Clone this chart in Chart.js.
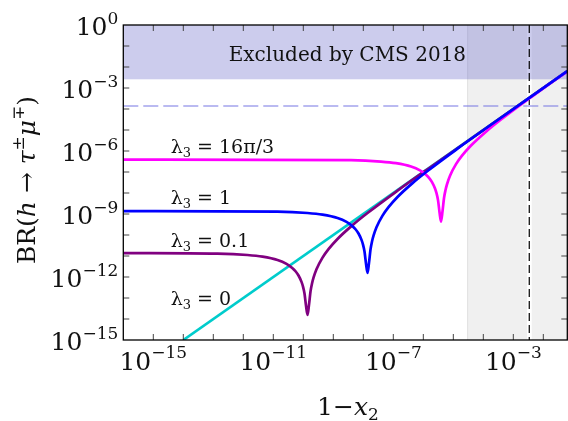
<!DOCTYPE html>
<html>
<head>
<meta charset="utf-8">
<script src="https://cdn.jsdelivr.net/npm/chart.js@4.4.0/dist/chart.umd.min.js"></script>
<style>
  body { margin: 0; background: #fff; }
  #wrap { width: 568px; height: 421px; }
</style>
</head>
<body>
<div id="wrap"><canvas id="brChart" width="568" height="421"></canvas></div>
<script>
// values: 1 - x2 on x, BR(h -> tau mu) on y
const xCyan = [1e-14, 6.3e-2];
const yCyan = [1e-15, 6.3e-3];

const xPurple = [1e-16, 1.38e-13, 1.38e-12, 4.37e-12, 1.38e-11, 2.75e-11, 4.37e-11, 5.50e-11, 6.92e-11,
  8.71e-11, 9.77e-11, 1.096e-10, 1.23e-10, 1.38e-10, 1.55e-10, 1.74e-10, 1.95e-10, 2.19e-10, 2.75e-10,
  4.37e-10, 6.92e-10, 1.38e-9, 4.37e-9, 1.38e-8, 1.38e-7, 1.38e-6, 6.3e-2];
const yPurple = [1.38e-11, 1.294e-11, 1.117e-11, 9.33e-12, 6.46e-12, 4.23e-12, 2.64e-12, 1.88e-12, 1.18e-12,
  5.85e-13, 3.48e-13, 1.63e-13, 4.32e-14, 1.55e-14, 4.85e-14, 2.06e-13, 4.91e-13, 9.25e-13, 2.35e-12,
  8.36e-12, 2.12e-11, 6.46e-11, 2.95e-10, 1.117e-9, 1.294e-8, 1.352e-7, 6.3e-3];

const xBlue = [1e-16, 1.38e-11, 1.38e-10, 4.37e-10, 1.38e-9, 2.75e-9, 4.37e-9, 5.50e-9, 6.92e-9,
  8.71e-9, 9.77e-9, 1.096e-8, 1.23e-8, 1.38e-8, 1.55e-8, 1.74e-8, 1.95e-8, 2.19e-8, 2.75e-8,
  4.37e-8, 6.92e-8, 1.38e-7, 4.37e-7, 1.38e-6, 1.38e-5, 1.38e-4, 6.3e-2];
const yBlue = [1.38e-9, 1.294e-9, 1.117e-9, 9.33e-10, 6.46e-10, 4.23e-10, 2.64e-10, 1.88e-10, 1.18e-10,
  5.85e-11, 3.48e-11, 1.63e-11, 4.32e-12, 1.55e-12, 4.85e-12, 2.06e-11, 4.91e-11, 9.25e-11, 2.35e-10,
  8.36e-10, 2.12e-9, 6.46e-9, 2.95e-8, 1.117e-7, 1.294e-6, 1.352e-5, 6.3e-3];

const xMagenta = [1e-16, 3.89e-9, 3.89e-8, 1.23e-7, 3.89e-7, 7.76e-7, 1.23e-6, 1.55e-6, 1.95e-6,
  2.455e-6, 2.75e-6, 3.09e-6, 3.47e-6, 3.89e-6, 4.37e-6, 4.90e-6, 5.50e-6, 6.17e-6, 7.76e-6,
  1.23e-5, 1.95e-5, 3.89e-5, 1.23e-4, 3.89e-4, 3.89e-3, 3.89e-2, 6.3e-2];
const yMagenta = [3.89e-7, 3.65e-7, 3.15e-7, 2.63e-7, 1.82e-7, 1.19e-7, 7.45e-8, 5.30e-8, 3.32e-8,
  1.65e-8, 9.79e-9, 4.59e-9, 1.216e-9, 4.37e-10, 1.37e-9, 5.79e-9, 1.38e-8, 2.61e-8, 6.62e-8,
  2.36e-7, 5.97e-7, 1.82e-6, 8.32e-6, 3.15e-5, 3.65e-4, 3.81e-3, 5.93e-3];

const seriesNames = ['λ3 = 1', 'λ3 = 16π/3', 'λ3 = 0.1', 'λ3 = 0'];

// labelled decades (exponents of 10)
const xTickExp = [-15, -11, -7, -3];
const yTickExp = [0, -3, -6, -9, -12, -15];

// bounds and limits
const cmsLimit = 2.6e-3;      // excluded band down to here
const futureLimit = 1.4e-4;   // dashed horizontal line
const grayFrom = 3.0e-5;
const gapFrom = 2.85e-3, gapTo = 4.1e-3;
const vLineAt = 3.4e-3;

const SERIF = '"DejaVu Serif", serif';

function toPts(xs, ys) {
  return xs.map((x, i) => ({ x: x, y: ys[i] }));
}

// draw a run of text pieces: [text, size, italic, dy]
function drawRich(ctx, runs, x, y, align) {
  let w = 0;
  runs.forEach(r => {
    ctx.font = (r[2] ? 'italic ' : '') + r[1] + 'px ' + SERIF;
    w += ctx.measureText(r[0]).width;
  });
  let cx = align === 'center' ? x - w / 2 : (align === 'right' ? x - w : x);
  ctx.textAlign = 'left';
  ctx.textBaseline = 'alphabetic';
  runs.forEach(r => {
    ctx.font = (r[2] ? 'italic ' : '') + r[1] + 'px ' + SERIF;
    ctx.fillText(r[0], cx, y + (r[3] || 0));
    cx += ctx.measureText(r[0]).width;
  });
}

const backdrop = {
  id: 'backdrop',
  beforeDatasetsDraw(chart) {
    const { ctx, chartArea: a, scales: { x, y } } = chart;
    ctx.save();
    const gx0 = x.getPixelForValue(grayFrom);
    const gx1 = x.getPixelForValue(gapFrom);
    const gx2 = x.getPixelForValue(gapTo);
    ctx.fillStyle = '#f0f0f0';
    ctx.fillRect(gx0, a.top, gx1 - gx0, a.bottom - a.top);
    ctx.fillRect(gx2, a.top, a.right - gx2, a.bottom - a.top);
    ctx.strokeStyle = '#e0e0e0';
    ctx.lineWidth = 1;
    ctx.beginPath();
    ctx.moveTo(gx0, a.top); ctx.lineTo(gx0, a.bottom);
    ctx.stroke();

    const by = y.getPixelForValue(cmsLimit);
    ctx.fillStyle = 'rgba(100,100,200,0.33)';
    ctx.fillRect(a.left, a.top, a.right - a.left, by - a.top);

    const fy = y.getPixelForValue(futureLimit);
    ctx.strokeStyle = 'rgba(110,110,225,0.95)';
    ctx.lineWidth = 1.1;
    ctx.setLineDash([15, 5]);
    ctx.beginPath();
    ctx.moveTo(a.left, fy); ctx.lineTo(a.right, fy);
    ctx.stroke();

    const vx = x.getPixelForValue(vLineAt);
    ctx.strokeStyle = '#000';
    ctx.lineWidth = 1.2;
    ctx.setLineDash([8, 4]);
    ctx.beginPath();
    ctx.moveTo(vx, a.top); ctx.lineTo(vx, a.bottom);
    ctx.stroke();
    ctx.restore();
  },
  afterDatasetsDraw(chart) {
    const { ctx, chartArea: a, scales: { x, y } } = chart;
    ctx.save();
    ctx.fillStyle = '#111';

    // frame and inward ticks
    ctx.strokeStyle = '#444';
    ctx.lineWidth = 1;
    ctx.beginPath();
    for (let e = -16; e <= -1; e++) {
      const px = x.getPixelForValue(Math.pow(10, e));
      if (px <= a.left + 1 || px >= a.right - 1) continue;
      ctx.moveTo(px, a.bottom); ctx.lineTo(px, a.bottom - 6);
      ctx.moveTo(px, a.top); ctx.lineTo(px, a.top + 6);
    }
    for (let e = -15; e <= 0; e++) {
      const py = y.getPixelForValue(Math.pow(10, e));
      if (py <= a.top + 1 || py >= a.bottom - 1) continue;
      ctx.moveTo(a.left, py); ctx.lineTo(a.left + 6, py);
      ctx.moveTo(a.right, py); ctx.lineTo(a.right - 6, py);
    }
    ctx.stroke();
    ctx.strokeStyle = '#000';
    ctx.lineWidth = 1.3;
    ctx.strokeRect(a.left, a.top, a.right - a.left, a.bottom - a.top);

    // tick labels
    xTickExp.forEach(e => {
      const px = x.getPixelForValue(Math.pow(10, e));
      drawRich(ctx, [['10', 25], ['\u2212' + (-e), 17, false, -12]], px, a.bottom + 30, 'center');
    });
    yTickExp.forEach(e => {
      const py = y.getPixelForValue(Math.pow(10, e));
      const ex = e === 0 ? '0' : '\u2212' + (-e);
      drawRich(ctx, [['10', 25], [ex, 17, false, -11]], a.left - 5, py + 10, 'right');
    });

    // axis titles
    drawRich(ctx, [['1\u2212', 25], ['x', 25, true], ['2', 17, false, 5]], 348, 415, 'center');
    ctx.save();
    ctx.translate(35, 180);
    ctx.rotate(-Math.PI / 2);
    drawRich(ctx, [['BR(', 25], ['h', 25, true], [' \u2192 ', 25], ['\u03c4', 25, true], ['\u00b1', 17, false, -11],
      ['\u03bc', 25, true], ['\u2213', 17, false, -11], [')', 25]], 0, 0, 'center');
    ctx.restore();

    // region text
    drawRich(ctx, [['Excluded by CMS 2018', 20]], x.getPixelForValue(2.95e-9), y.getPixelForValue(1.95e-2), 'center');

    // curve labels
    const labelX = x.getPixelForValue(3.8e-15);
    const labelTails = [' = 16\u03c0/3', ' = 1', ' = 0.1', ' = 0'];
    const labelY = [8.3e-7, 3.0e-9, 2.75e-11, 4.7e-14];
    labelTails.forEach((t, i) => {
      drawRich(ctx, [['\u03bb', 19], ['3', 13, false, 4], [t, 19]], labelX, y.getPixelForValue(labelY[i]), 'left');
    });
    ctx.restore();
  }
};

const lineStyle = { showLine: true, pointRadius: 0, borderWidth: 2.7, fill: false, cubicInterpolationMode: 'monotone' };

const ctx = document.getElementById('brChart').getContext('2d');
const brChart = new Chart(ctx, {
  type: 'scatter',
  data: {
    datasets: [
      Object.assign({ label: seriesNames[0], data: toPts(xBlue, yBlue), borderColor: '#0000ff' }, lineStyle),
      Object.assign({ label: seriesNames[1], data: toPts(xMagenta, yMagenta), borderColor: '#ff00ff' }, lineStyle),
      Object.assign({ label: seriesNames[2], data: toPts(xPurple, yPurple), borderColor: '#800080' }, lineStyle),
      Object.assign({ label: seriesNames[3], data: toPts(xCyan, yCyan), borderColor: '#00cccc' }, lineStyle)
    ]
  },
  options: {
    responsive: false,
    animation: false,
    events: [],
    layout: { padding: { left: 123.3, right: 0.7, top: 25, bottom: 81 } },
    scales: {
      x: { type: 'logarithmic', display: false, min: 1e-16, max: 6.3e-2 },
      y: { type: 'logarithmic', display: false, min: 1e-15, max: 1 }
    },
    plugins: {
      legend: { display: false },
      tooltip: { enabled: false }
    }
  },
  plugins: [backdrop]
});
</script>
</body>
</html>
